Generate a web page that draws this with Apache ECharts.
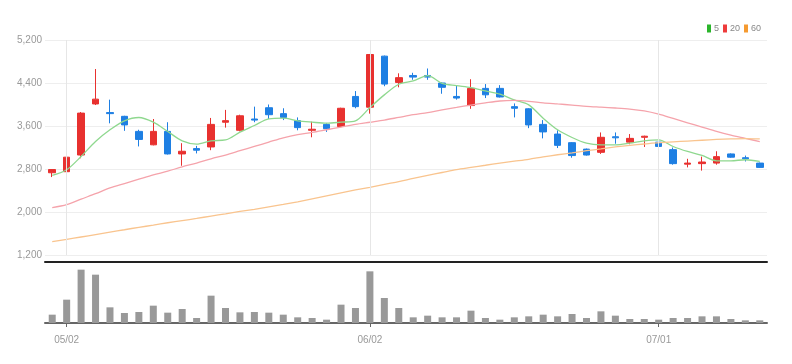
<!DOCTYPE html>
<html><head><meta charset="utf-8">
<script src="https://cdn.jsdelivr.net/npm/echarts@6/dist/echarts.min.js"></script>
<style>html,body{margin:0;padding:0;background:#fff}#c{width:792px;height:364px}</style>
</head><body><div id="c"></div>
<script>
const dates = ['04/29','05/02','05/03','05/04','05/06','05/09','05/10','05/11','05/12','05/13',
  '05/16','05/17','05/18','05/19','05/20','05/23','05/24','05/25','05/26','05/27',
  '05/30','05/31','06/02','06/03','06/07','06/08','06/09','06/10','06/13','06/14',
  '06/15','06/16','06/17','06/20','06/21','06/22','06/23','06/24','06/27','06/28',
  '06/29','06/30','07/01','07/04','07/05','07/06','07/07','07/08','07/11','07/12'];
const opens  = [2730,2750,3060,4010,3850,3780,3500,3250,3500,3080,3180,3210,3670,3520,3730,3940,3830,3700,3520,3630,3590,4150,3950,4900,4410,4540,4540,4400,4150,3980,4300,4300,3960,3920,3630,3450,3290,3170,3110,3400,3300,3390,3300,3160,2890,2900,2910,3080,3010,2910];
const closes = [2790,3020,3840,4100,3830,3620,3350,3500,3080,3130,3150,3630,3700,3790,3710,3810,3760,3570,3540,3550,3930,3960,4930,4380,4500,4510,4510,4320,4120,4300,4180,4140,3930,3620,3490,3240,3050,3060,3390,3380,3370,3410,3220,2900,2910,2930,3030,3020,2990,2830];
const lows   = [2650,2660,3000,3990,3650,3510,3220,3240,3070,2860,3090,3150,3570,3500,3670,3730,3710,3520,3390,3490,3580,3930,3830,4340,4320,4460,4460,4200,4090,3920,4120,4130,3760,3560,3370,3190,3010,3050,3080,3270,3260,3210,3100,2880,2830,2770,2880,3010,2940,2820];
const highs  = [2800,3110,3860,4660,4090,3790,3530,3730,3670,3280,3230,3750,3900,3810,3960,4000,3930,3760,3680,3650,3940,4250,4940,4910,4580,4590,4670,4410,4360,4470,4380,4360,4020,3930,3710,3520,3300,3180,3480,3480,3450,3420,3360,3200,2990,3030,3130,3090,3050,2920];
const volumes = [25,70,160,145,47,30,33,52,31,42,15,82,45,32,33,31,25,17,15,10,55,45,155,75,45,17,22,17,17,37,15,10,17,20,25,20,27,15,35,22,12,12,10,15,15,20,20,12,8,8];
const ma5  = [2680,2786,3034,3312,3529,3696,3758,3671,3498,3324,3263,3324,3340,3485,3609,3733,3745,3696,3671,3652,3671,3696,3943,4179,4377,4439,4538,4395,4352,4315,4253,4191,4086,3993,3745,3529,3386,3280,3250,3250,3281,3324,3343,3219,3126,3052,2953,2953,2972,2941];
const ma20 = [2080,2135,2240,2340,2450,2530,2610,2690,2760,2840,2910,2990,3060,3140,3220,3300,3380,3440,3480,3530,3580,3630,3670,3710,3760,3810,3850,3900,3945,3990,4030,4065,4075,4060,4030,4010,3990,3965,3950,3935,3915,3880,3820,3740,3660,3580,3500,3430,3370,3310];
const ma60 = [1450,1490,1535,1580,1625,1670,1715,1755,1800,1840,1880,1925,1965,2010,2050,2095,2140,2190,2245,2300,2355,2410,2460,2515,2565,2625,2680,2735,2790,2830,2870,2910,2945,2980,3025,3065,3100,3140,3175,3210,3240,3265,3290,3305,3320,3335,3350,3360,3365,3360];
const yTicks = {min:1200, max:5200, interval:800};
const labelDates = ['05/02','06/02','07/01'];

const FONT = '"Liberation Sans Narrow","Liberation Sans",sans-serif';
const showIdx = (i, v) => labelDates.indexOf(v) >= 0;
const candleData = dates.map((d,i)=>[opens[i],closes[i],lows[i],highs[i]]);

const chart = echarts.init(document.getElementById('c'), null, {renderer:'canvas'});
chart.setOption({
  animation:false,
  backgroundColor:'#fff',
  legend:{right:26, top:19, icon:'rect', itemWidth:4, itemHeight:8, itemGap:4,
    textStyle:{fontSize:9, color:'#888', fontFamily:FONT, padding:[0,0,0,-2]}, data:['5','20','60']},
  grid:[{left:45, right:25, top:40, height:215},{left:45, right:25, top:262, height:61}],
  xAxis:[
    {type:'category', gridIndex:0, data:dates, boundaryGap:true,
      axisLine:{show:false}, axisTick:{show:false}, axisLabel:{show:false}, splitLine:{show:false}},
    {type:'category', gridIndex:1, data:dates, boundaryGap:true, position:'bottom',
      axisLine:{lineStyle:{color:'#666', width:2}},
      axisTick:{show:true, interval:showIdx, alignWithLabel:true, length:4, lineStyle:{color:'#666'}},
      axisLabel:{interval:showIdx, color:'#999', fontSize:10, margin:12, fontFamily:FONT},
      splitLine:{show:false}},
    {type:'category', gridIndex:1, data:dates, boundaryGap:true, position:'top',
      axisLine:{lineStyle:{color:'#222', width:2}}, axisTick:{show:false}, axisLabel:{show:false}}
  ],
  yAxis:[
    {type:'value', gridIndex:0, min:yTicks.min, max:yTicks.max, interval:yTicks.interval,
      axisLine:{show:false}, axisTick:{show:false},
      axisLabel:{color:'#999', fontSize:10, margin:3, fontFamily:FONT, formatter:v=>v.toLocaleString('en-US')},
      splitLine:{lineStyle:{color:'#eee'}}},
    {type:'value', gridIndex:1, min:0, max:183, show:false, splitLine:{show:false}}
  ],
  series:[
    {type:'candlestick', name:'price', xAxisIndex:0, yAxisIndex:0, data:candleData, barWidth:7,
      itemStyle:{color:'#e8312f', color0:'#1e7fe3', borderColor:'#e8312f', borderColor0:'#1e7fe3', borderWidth:1},
      markLine:{silent:true, symbol:'none', label:{show:false}, animation:false,
        lineStyle:{color:'#e6e6e6', type:'solid', width:1},
        data:labelDates.map(d=>({xAxis:d}))}},
    {type:'line', name:'5', data:ma5, smooth:0.3, showSymbol:false, xAxisIndex:0, yAxisIndex:0,
      itemStyle:{color:'#2bb52b'}, lineStyle:{color:'#8fd88f', width:1.3}},
    {type:'line', name:'20', data:ma20, smooth:0.3, showSymbol:false, xAxisIndex:0, yAxisIndex:0,
      itemStyle:{color:'#ee3b3b'}, lineStyle:{color:'#f5a3ab', width:1.3}},
    {type:'line', name:'60', data:ma60, smooth:0.3, showSymbol:false, xAxisIndex:0, yAxisIndex:0,
      itemStyle:{color:'#f59a30'}, lineStyle:{color:'#f9c48e', width:1.3}},
    {type:'bar', name:'vol', xAxisIndex:1, yAxisIndex:1, data:volumes, barWidth:7,
      itemStyle:{color:'#999'}}
  ]
});
</script></body></html>
